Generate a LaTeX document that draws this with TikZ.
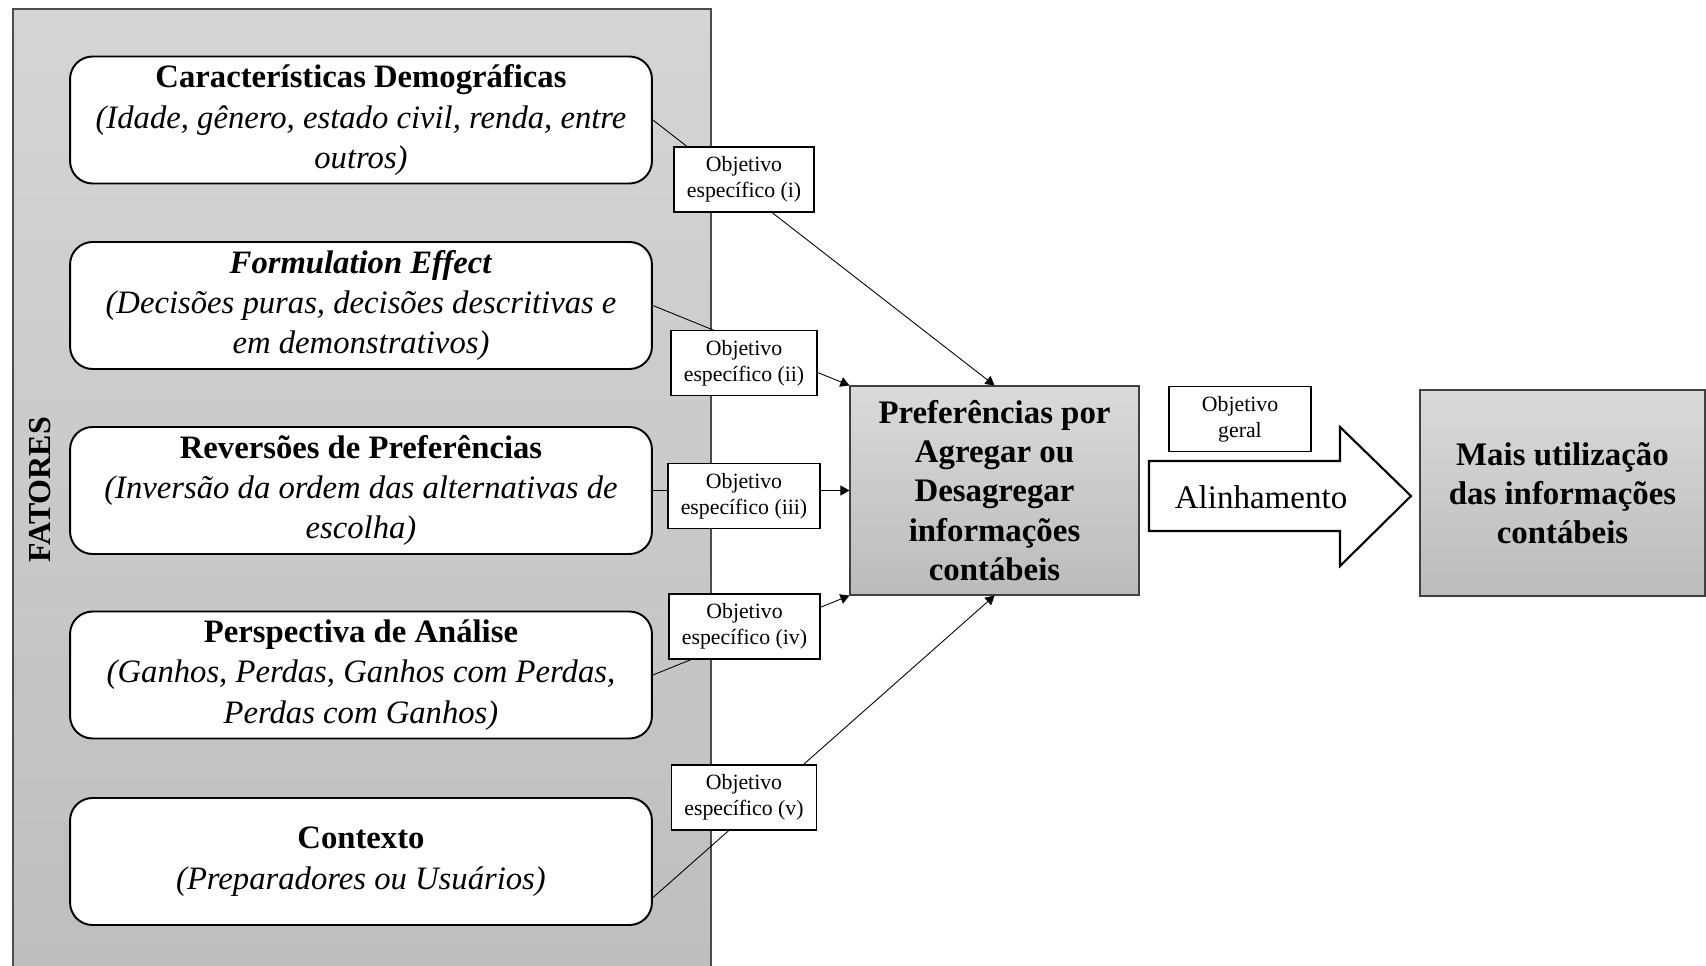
\documentclass[tikz,border=0pt]{standalone}
\usepackage{fontspec}
\setmainfont{Liberation Serif}
\usetikzlibrary{calc, arrows.meta}

\definecolor{painelTopo}{HTML}{D5D5D5}
\definecolor{painelBase}{HTML}{BEBEBE}
\definecolor{caixaTopo}{HTML}{DADADA}
\definecolor{caixaBase}{HTML}{BBBBBB}

\begin{document}
\begin{tikzpicture}[x=0.02cm, y=-0.02cm,
  fator/.style={draw, line width=1.1pt, rounded corners=0.45cm, fill=white,
    minimum width=11.64cm, minimum height=2.54cm, align=center, inner sep=2pt,
    font=\fontsize{18.6}{23}\selectfont},
  objetivo/.style={draw, line width=1pt, fill=white, align=center,
    minimum height=1.3cm, inner xsep=0.26cm, font=\fontsize{12.4}{15}\selectfont},
  cinza/.style={draw=black!75, line width=0.7pt, top color=caixaTopo, bottom color=caixaBase,
    align=center, font=\fontsize{18.7}{22.3}\selectfont\bfseries},
  seta/.style={-{Triangle[length=0.18cm, width=0.2cm]}, line width=0.5pt}]
  \useasboundingbox (0,0) rectangle (1706,966);

  % painel dos fatores (sai pela borda de baixo)
  \shade[top color=painelTopo, bottom color=painelBase] (13,9) rectangle (711,966);
  \draw[black!70, line width=0.6pt] (13,966) -- (13,9) -- (711,9) -- (711,966);
  \node[rotate=90, font=\fontsize{18.2}{20}\selectfont\bfseries] (fatores) at (40,490) {FATORES};

  % fatores
  \node[fator] (f1) at (361,120)   {\textbf{Características Demográficas}\\
    \textit{(Idade, gênero, estado civil, renda, entre}\\ \textit{outros)}};
  \node[fator] (f2) at (361,305.5) {\textbf{\textit{Formulation Effect}}\\
    \textit{(Decisões puras, decisões descritivas e}\\ \textit{em demonstrativos)}};
  \node[fator] (f3) at (361,490.5) {\textbf{Reversões de Preferências}\\
    \textit{(Inversão da ordem das alternativas de}\\ \textit{escolha)}};
  \node[fator] (f4) at (361,675)   {\textbf{Perspectiva de Análise}\\
    \textit{(Ganhos, Perdas, Ganhos com Perdas,}\\ \textit{Perdas com Ganhos)}};
  \node[fator] (f5) at (361,861.5) {\textbf{Contexto}\\ \textit{(Preparadores ou Usuários)}};

  % caixas cinzas
  \node[cinza, minimum width=5.78cm, minimum height=4.18cm] (pref) at (994.5,490.5)
    {Preferências por\\Agregar ou\\Desagregar\\informações\\contábeis};
  \node[cinza, minimum width=5.7cm, minimum height=4.12cm] (mais) at (1562.5,493)
    {Mais utilização\\das informações\\contábeis};

  % ligações (por baixo das caixas de objetivo)
  \draw[seta] (f1.east) -- (pref.north);
  \draw[seta] (f2.east) -- (pref.north west);
  \draw[seta] (f3.east) -- (pref.west);
  \draw[seta] (f4.east) -- (pref.south west);
  \draw[seta] ($(f5.south east)!0.22!(f5.north east)$) -- (pref.south);

  % objetivos específicos
  \node[objetivo] (o1) at (744,179.5) {Objetivo\\específico (i)};
  \node[objetivo] (o2) at (744,363)   {Objetivo\\específico (ii)};
  \node[objetivo] (o3) at (744,496)   {Objetivo\\específico (iii)};
  \node[objetivo] (o4) at (744.5,626.5) {Objetivo\\específico (iv)};
  \node[objetivo] (o5) at (744,797.5) {Objetivo\\específico (v)};

  % seta grande: alinhamento
  \node[objetivo, minimum width=2.84cm] (geral) at (1240,419) {Objetivo\\geral};
  \draw[line width=1.2pt, fill=white] (1149,461) -- (1340,461) -- (1340,427) -- (1411,496)
    -- (1340,566) -- (1340,531) -- (1149,531) -- cycle;
  \node[font=\fontsize{18.8}{22}\selectfont] (alinha) at (1261,497) {Alinhamento};
\end{tikzpicture}
\end{document}
